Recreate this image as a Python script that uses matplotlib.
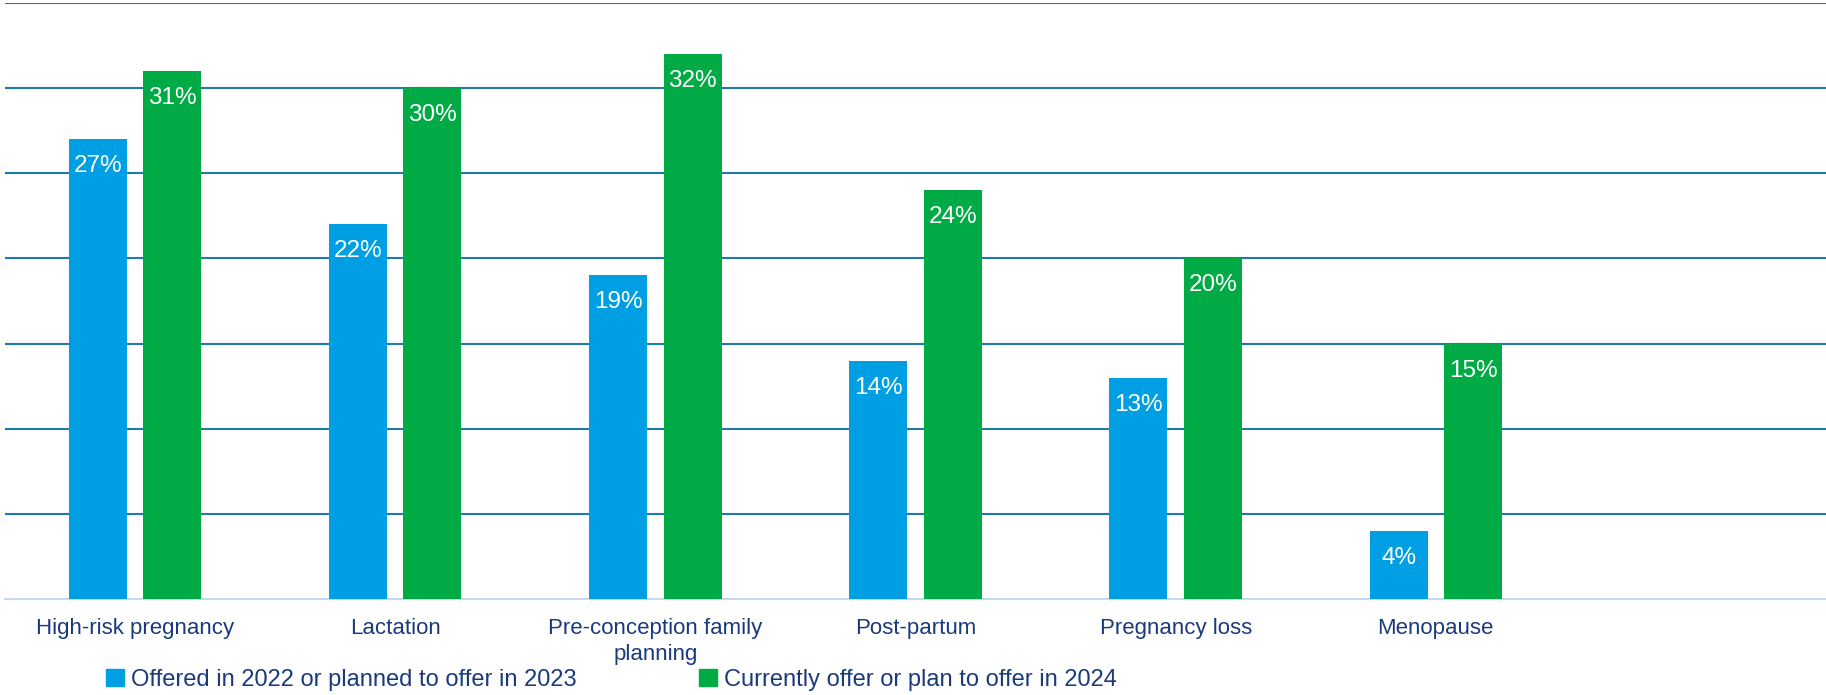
import matplotlib
matplotlib.use("Agg")
import matplotlib.pyplot as plt
import numpy as np
from matplotlib.patches import Patch

plt.rcParams['font.family'] = ['Liberation Sans', 'DejaVu Sans']

# Данные
categories = ["High-risk pregnancy", "Lactation", "Pre-conception family\nplanning",
              "Post-partum", "Pregnancy loss", "Menopause", ""]
offered_2023 = [27, 22, 19, 14, 13, 4]
offer_2024 = [31, 30, 32, 24, 20, 15]
series_names = ["Offered in 2022 or planned to offer in 2023",
                "Currently offer or plan to offer in 2024"]

BLUE = "#009FE3"
GREEN = "#00AA45"
NAVY = "#1B3A7C"
GRID = "#1F7AA6"

fig = plt.figure(figsize=(18.26, 6.95), dpi=100)
ax = fig.add_axes([5 / 1826, 1 - 599 / 695, 1 - 5 / 1826, 596 / 695])

x = np.arange(len(offered_2023))
w = 0.223
off = 0.143
b1 = ax.bar(x - off, offered_2023, w, color=BLUE, zorder=3)
b2 = ax.bar(x + off, offer_2024, w, color=GREEN, zorder=3)

# подписи значений внутри столбцов
for bars, vals in ((b1, offered_2023), (b2, offer_2024)):
    for r, v in zip(bars, vals):
        ax.annotate(f"{v}%", (r.get_x() + r.get_width() / 2, v),
                    xytext=(0, -11.5), textcoords="offset points",
                    ha="center", va="top", color="white", fontsize=17.5, zorder=4)

ax.set_xlim(-0.5, len(categories) - 0.5)
ax.set_ylim(0, 35)
ax.set_yticks(np.arange(5, 36, 5))
ax.yaxis.grid(True, color=GRID, linewidth=1.5, zorder=0)
ax.tick_params(axis="y", left=False, labelleft=False)
ax.set_xticks(np.arange(len(categories)))
ax.set_xticklabels(categories, fontsize=16, color=NAVY, linespacing=1.32)
ax.tick_params(axis="x", bottom=False, pad=10)
for s in ("top", "right", "left"):
    ax.spines[s].set_visible(False)
ax.spines["bottom"].set_color("#C5D9F1")
ax.spines["bottom"].set_linewidth(1.5)

handles = [Patch(color=BLUE), Patch(color=GREEN)]
leg = fig.legend(handles, series_names, loc="center left", bbox_to_anchor=(106 / 1826, 1 - 680 / 695),
                 ncol=2, frameon=False, fontsize=17, handlelength=0.75, handleheight=0.75,
                 handletextpad=0.3, columnspacing=5.2, borderaxespad=0, borderpad=0)
for t in leg.get_texts():
    t.set_color(NAVY)

fig.savefig("out.png", dpi=100)
